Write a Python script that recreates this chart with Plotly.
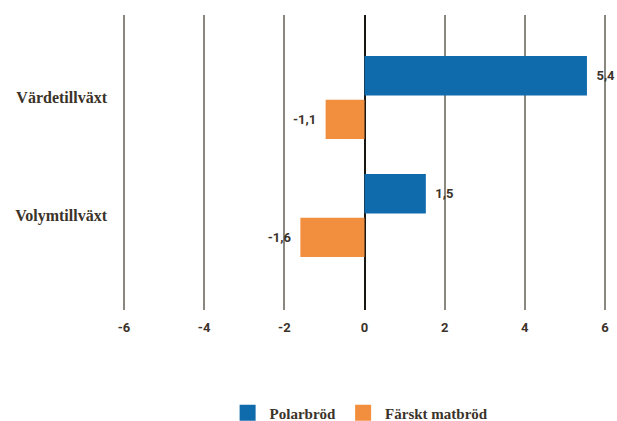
import plotly.graph_objects as go

categories = ["Värdetillväxt", "Volymtillväxt"]
polar_values = [5.55, 1.53]
farskt_values = [-0.97, -1.6]
polar_labels = ["5,4", "1,5"]
farskt_labels = ["-1,1", "-1,6"]
x_ticks = [-6, -4, -2, 0, 2, 4, 6]

text_color = "#3b3329"
blue = "#106bad"
orange = "#f28f3f"
NB = "\u00a0\u00a0"

fig = go.Figure()
fig.add_trace(go.Bar(
    y=categories, x=polar_values, orientation="h", name="Polarbröd",
    marker=dict(color=blue, line=dict(width=0)), showlegend=False,
    text=[NB + t for t in polar_labels], textposition="outside", cliponaxis=False,
    textfont=dict(family="Roboto", size=13, color=text_color, weight="bold"),
))
fig.add_trace(go.Bar(
    y=categories, x=farskt_values, orientation="h", name="Färskt matbröd",
    marker=dict(color=orange, line=dict(width=0)), showlegend=False,
    text=[t + NB for t in farskt_labels], textposition="outside", cliponaxis=False,
    textfont=dict(family="Roboto", size=13, color=text_color, weight="bold"),
))
# legend entries with larger square swatches
for name, col in [("Polarbröd", blue), ("Färskt matbröd", orange)]:
    fig.add_trace(go.Scatter(
        x=[None], y=[None], mode="markers", name=name,
        marker=dict(symbol="square", size=20, color=col), showlegend=True,
    ))

fig.update_layout(
    width=617, height=421,
    margin=dict(l=120, r=8, t=15, b=111, autoexpand=False),
    paper_bgcolor="white", plot_bgcolor="white",
    barmode="group", bargap=0.26, bargroupgap=0.1,
    showlegend=True,
    legend=dict(orientation="h", x=0.49, xanchor="center", y=-0.349, yanchor="middle",
                font=dict(family="Liberation Serif", size=15, color=text_color, weight="bold"),
                itemwidth=34, traceorder="normal"),
    xaxis=dict(range=[-6.1, 6.1], tickvals=x_ticks, ticktext=[str(v) for v in x_ticks],
               showgrid=True, gridcolor="#8a8680", gridwidth=2,
               zeroline=True, zerolinecolor="#1a1612", zerolinewidth=1.5,
               showline=False, ticks="", ticklabelstandoff=8,
               tickfont=dict(family="Roboto", size=13, color=text_color, weight="bold")),
    yaxis=dict(type="category", categoryorder="array", categoryarray=categories,
               range=[1.8, -0.7], showgrid=False, zeroline=False,
               showline=False, ticks="", ticklabelstandoff=12,
               tickfont=dict(family="Liberation Serif", size=16, color=text_color, weight="bold")),
)

fig.write_html("out.html", config={"displayModeBar": False},
               post_script="document.body.style.margin='0';document.body.style.overflow='hidden';")
